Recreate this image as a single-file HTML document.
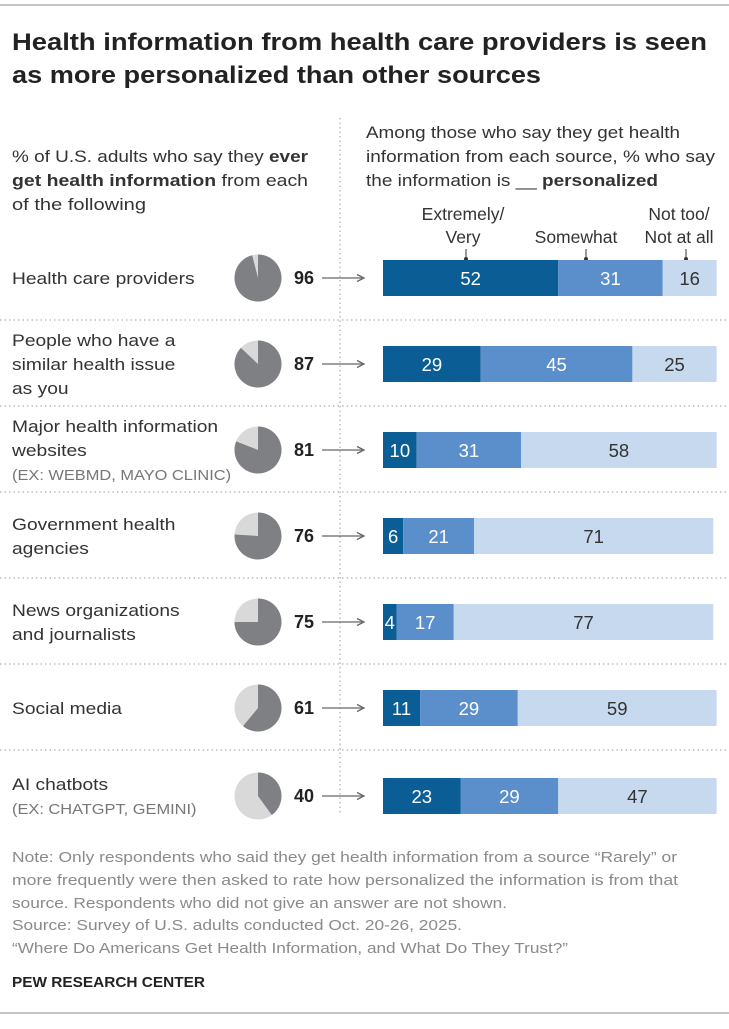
<!DOCTYPE html><html><head><style>
body{margin:0;background:#fff;}
svg text{font-family:"Liberation Sans",Arial,sans-serif;}
</style></head><body>
<svg id="s" width="729" height="1024" viewBox="0 0 729 1024" xmlns="http://www.w3.org/2000/svg">
<line x1="0" y1="5" x2="729" y2="5" stroke="#8a8a8a" stroke-width="1"/>
<text x="12" y="50" font-size="24" font-weight="bold" fill="#222" textLength="695" lengthAdjust="spacingAndGlyphs">Health information from health care providers is seen</text>
<text x="12" y="83" font-size="24" font-weight="bold" fill="#222" textLength="529" lengthAdjust="spacingAndGlyphs">as more personalized than other sources</text>
<g font-size="17" fill="#333">
<text x="12" y="162" textLength="296" lengthAdjust="spacingAndGlyphs">% of U.S. adults who say they <tspan font-weight="bold">ever</tspan></text>
<text x="12" y="186" textLength="296" lengthAdjust="spacingAndGlyphs"><tspan font-weight="bold">get health information</tspan> from each</text>
<text x="12" y="210" textLength="134" lengthAdjust="spacingAndGlyphs">of the following</text>
<text x="366" y="138" textLength="314" lengthAdjust="spacingAndGlyphs">Among those who say they get health</text>
<text x="366" y="162" textLength="349" lengthAdjust="spacingAndGlyphs">information from each source, % who say</text>
<text x="366" y="186" textLength="292" lengthAdjust="spacingAndGlyphs">the information is __ <tspan font-weight="bold">personalized</tspan></text>
</g>
<g font-size="17.5" fill="#333" text-anchor="middle">
<text x="463" y="220">Extremely/</text>
<text x="463" y="243">Very</text>
<text x="576" y="243">Somewhat</text>
<text x="679" y="220">Not too/</text>
<text x="679" y="243">Not at all</text>
</g>
<g stroke="#333" stroke-width="1"><line x1="466" y1="249" x2="466" y2="260"/><line x1="586" y1="249" x2="586" y2="260"/><line x1="686" y1="249" x2="686" y2="260"/></g>
<g fill="#333"><circle cx="466" cy="259" r="2"/><circle cx="586" cy="259" r="2"/><circle cx="686" cy="259" r="2"/></g>
<line x1="340" y1="118" x2="340" y2="815" stroke="#999" stroke-dasharray="1.5,3"/>
<g stroke="#999" stroke-dasharray="1.5,3">
<line x1="0" y1="320" x2="729" y2="320"/><line x1="0" y1="406" x2="729" y2="406"/><line x1="0" y1="492" x2="729" y2="492"/><line x1="0" y1="578" x2="729" y2="578"/><line x1="0" y1="664" x2="729" y2="664"/><line x1="0" y1="750" x2="729" y2="750"/>
</g>
<g id="rows" font-size="17"></g>
<g font-size="14.5" fill="#8a8a8a">
<text x="12" y="862" textLength="665" lengthAdjust="spacingAndGlyphs">Note: Only respondents who said they get health information from a source “Rarely” or</text>
<text x="12" y="885" textLength="666" lengthAdjust="spacingAndGlyphs">more frequently were then asked to rate how personalized the information is from that</text>
<text x="12" y="908" textLength="495" lengthAdjust="spacingAndGlyphs">source. Respondents who did not give an answer are not shown.</text>
<text x="12" y="930" textLength="450" lengthAdjust="spacingAndGlyphs">Source: Survey of U.S. adults conducted Oct. 20-26, 2025.</text>
<text x="12" y="953" textLength="556" lengthAdjust="spacingAndGlyphs">“Where Do Americans Get Health Information, and What Do They Trust?”</text>
</g>
<text x="12" y="987" font-size="15" font-weight="bold" fill="#222" textLength="193" lengthAdjust="spacingAndGlyphs">PEW RESEARCH CENTER</text>
<line x1="0" y1="1013" x2="729" y2="1013" stroke="#8a8a8a"/>
</svg>
<script>
const rows=[
{c:278,l:["Health care providers"],s:null,v:96,b:[52,31,16]},
{c:364,l:["People who have a","similar health issue","as you"],s:null,v:87,b:[29,45,25]},
{c:450,l:["Major health information","websites"],s:"(EX: WEBMD, MAYO CLINIC)",v:81,b:[10,31,58]},
{c:536,l:["Government health","agencies"],s:null,v:76,b:[6,21,71]},
{c:622,l:["News organizations","and journalists"],s:null,v:75,b:[4,17,77]},
{c:708,l:["Social media"],s:null,v:61,b:[11,29,59]},
{c:796,l:["AI chatbots"],s:"(EX: CHATGPT, GEMINI)",v:40,b:[23,29,47]}];
let h="";const cols=["#0b5e95","#5a8fcb","#c6d9ee"],tc=["#fff","#fff","#333"];
rows.forEach(r=>{
 const n=r.l.length+(r.s?1:0);let y0=r.c-(n-1)*12+6;
 r.l.forEach((t,i)=>h+=`<text class="k" x="12" y="${y0+i*24}" fill="#333">${t}</text>`);
 if(r.s)h+=`<text class="k" x="12" y="${y0+r.l.length*24}" font-size="14.5" fill="#777">${r.s}</text>`;
 const cx=258,cy=r.c,R=23.5,a=r.v/100*2*Math.PI;
 const ex=cx+R*Math.sin(a),ey=cy-R*Math.cos(a);
 h+=`<circle cx="${cx}" cy="${cy}" r="${R}" fill="#d9d9d9"/><path d="M${cx},${cy} L${cx},${cy-R} A${R},${R} 0 ${r.v>50?1:0} 1 ${ex},${ey} Z" fill="#7e8084"/>`;
 h+=`<text x="314" y="${cy+6}" text-anchor="end" font-weight="bold" font-size="18" fill="#222">${r.v}</text>`;
 h+=`<line x1="322" y1="${cy}" x2="362" y2="${cy}" stroke="#666" stroke-width="1.3"/><path d="M357,${cy-3.5} L364,${cy} L357,${cy+3.5}" fill="none" stroke="#666" stroke-width="1.3"/>`;
 let x=383;r.b.forEach((v,i)=>{const w=v*3.37;h+=`<rect x="${x}" y="${cy-18}" width="${w}" height="36" fill="${cols[i]}"/>`;
  h+=`<text x="${x+w/2}" y="${cy+7}" text-anchor="middle" font-size="18.5" fill="${tc[i]}">${v}</text>`;x+=w;});
});
document.getElementById("rows").innerHTML=h;
document.querySelectorAll(".k").forEach(t=>{const L=t.getComputedTextLength();t.setAttribute("textLength",L*1.13);t.setAttribute("lengthAdjust","spacingAndGlyphs");});
</script>
</body></html>
